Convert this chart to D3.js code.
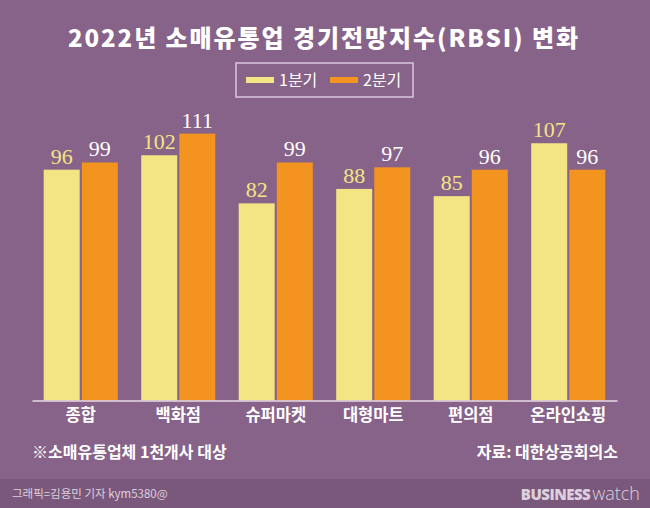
<!DOCTYPE html>
<html>
<head>
<meta charset="utf-8">
<script src="https://cdn.jsdelivr.net/npm/d3@7"></script>
<style>
  body { margin: 0; background: #876389; }
  svg { display: block; }
  .kr { font-family: "Noto Sans CJK KR", sans-serif; }
</style>
</head>
<body>
<div id="chart"></div>
<script>
// data
categories = ['종합', '백화점', '슈퍼마켓', '대형마트', '편의점', '온라인쇼핑']
seriesNames = ['1분기', '2분기']
q1 = [96, 102, 82, 88, 85, 107]
q2 = [99, 111, 99, 97, 96, 96]

colors = {'1분기': '#f3e584', '2분기': '#f39320'}
labelColors = {'1분기': '#f3e584', '2분기': '#ffffff'}

width = 650
height = 508

svg = d3.select('#chart').append('svg')
    .attr('width', width)
    .attr('height', height)

svg.append('rect')
    .attr('width', width).attr('height', height)
    .attr('fill', '#876389')

// footer band
svg.append('rect')
    .attr('x', 0).attr('y', 479)
    .attr('width', width).attr('height', 29)
    .attr('fill', '#7a587c')

// title
svg.append('text')
    .attr('class', 'kr')
    .attr('x', 68).attr('y', 47)
    .attr('font-size', 24)
    .attr('font-weight', 900)
    .attr('textLength', 510)
    .attr('lengthAdjust', 'spacing')
    .attr('fill', '#ffffff')
    .text('2022년 소매유통업 경기전망지수(RBSI) 변화')

// legend
svg.append('rect')
    .attr('x', 236).attr('y', 63)
    .attr('width', 177).attr('height', 34)
    .attr('fill', 'none')
    .attr('stroke', '#dcc6dc')
    .attr('stroke-width', 1.5)

legendX = [246, 330]
seriesNames.forEach(function(s, i) {
    svg.append('rect')
        .attr('x', legendX[i]).attr('y', 77)
        .attr('width', 28).attr('height', 6)
        .attr('fill', colors[s])
    svg.append('text')
        .attr('class', 'kr')
        .attr('x', legendX[i] + 33).attr('y', 86)
        .attr('font-size', 16)
        .attr('fill', '#ffffff')
        .text(s)
})

// scales
xScale = d3.scaleBand()
    .domain(categories)
    .range([32, 617])
    .paddingInner(0.24)
    .paddingOuter(0.12)

xInner = d3.scaleBand()
    .domain(seriesNames)
    .range([0, xScale.bandwidth()])
    .paddingInner(0.055)

yScale = d3.scaleLinear()
    .domain([0, 120])
    .range([400.5, 112])

rows = categories.map(function(c, i) {
    return {cat: c, values: [{s: '1분기', v: q1[i]}, {s: '2분기', v: q2[i]}]}
})

groups = svg.selectAll('.grp')
    .data(rows).enter()
    .append('g')
    .attr('class', 'grp')
    .attr('transform', function(d) { return 'translate(' + xScale(d.cat) + ',0)' })

groups.selectAll('rect')
    .data(function(d) { return d.values }).enter()
    .append('rect')
    .attr('x', function(d) { return xInner(d.s) })
    .attr('y', function(d) { return yScale(d.v) })
    .attr('width', xInner.bandwidth())
    .attr('height', function(d) { return yScale(0) - yScale(d.v) })
    .attr('fill', function(d) { return colors[d.s] })

groups.selectAll('text')
    .data(function(d) { return d.values }).enter()
    .append('text')
    .attr('x', function(d) { return xInner(d.s) + xInner.bandwidth() / 2 })
    .attr('y', function(d) { return yScale(d.v) - 6 })
    .attr('text-anchor', 'middle')
    .attr('font-family', '"Liberation Serif", serif')
    .attr('font-size', 22)
    .attr('fill', function(d) { return labelColors[d.s] })
    .text(function(d) { return d.v })

// x axis
xAxis = d3.axisBottom(xScale).tickSize(0).tickPadding(9)
axisG = svg.append('g')
    .attr('transform', 'translate(0,400.5)')
    .call(xAxis)
axisG.select('.domain')
    .attr('stroke', '#e6d8e6')
    .attr('stroke-width', 1.5)
axisG.selectAll('text')
    .attr('class', 'kr')
    .attr('font-size', 16.5)
    .attr('font-weight', 700)
    .attr('fill', '#ffffff')

// notes
svg.append('text')
    .attr('class', 'kr')
    .attr('x', 32).attr('y', 458)
    .attr('font-size', 16)
    .attr('font-weight', 700)
    .attr('fill', '#ffffff')
    .text('※소매유통업체 1천개사 대상')

svg.append('text')
    .attr('class', 'kr')
    .attr('x', 618).attr('y', 458)
    .attr('text-anchor', 'end')
    .attr('font-size', 16)
    .attr('font-weight', 700)
    .attr('fill', '#ffffff')
    .text('자료: 대한상공회의소')

svg.append('text')
    .attr('class', 'kr')
    .attr('x', 12).attr('y', 498)
    .attr('font-size', 11.5)
    .attr('fill', '#ddd0dd')
    .text('그래픽=김용민 기자 kym5380@')

bw = svg.append('text')
    .attr('x', 640).attr('y', 500)
    .attr('text-anchor', 'end')
    .attr('font-family', '"Open Sans", sans-serif')
    .attr('fill', '#ddd0dd')
bw.append('tspan')
    .attr('font-size', 15)
    .attr('font-weight', 800)
    .attr('letter-spacing', -0.5)
    .text('BUSINESS')
bw.append('tspan')
    .attr('font-size', 18)
    .attr('font-weight', 300)
    .attr('dx', 2)
    .text('watch')
</script>
</body>
</html>
